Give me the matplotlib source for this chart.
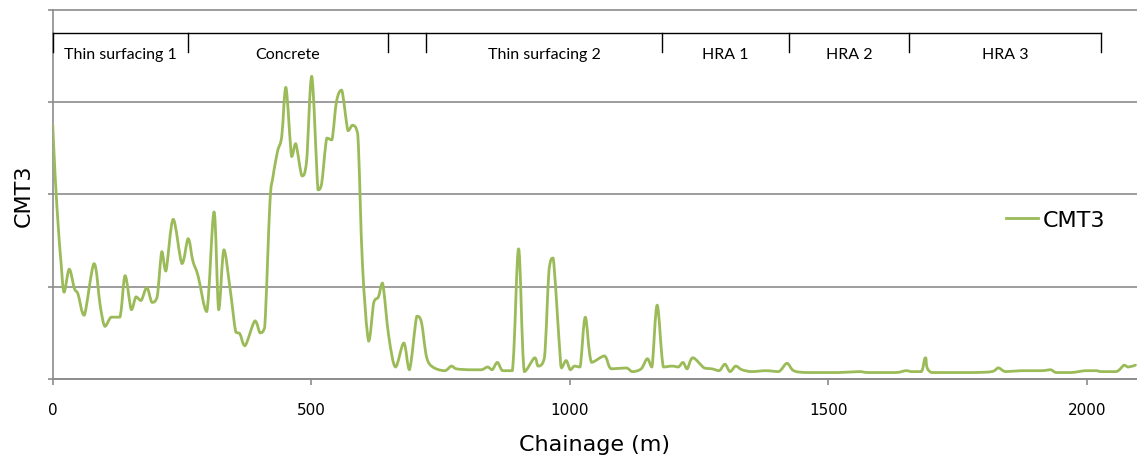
import matplotlib
matplotlib.use("Agg")
import matplotlib.pyplot as plt
import numpy as np
from matplotlib.path import Path
from matplotlib.patches import PathPatch
from matplotlib.lines import Line2D
from matplotlib.ticker import MultipleLocator

# CMT3 profile along the chainage
chainage = [0, 5, 11, 16, 22, 32, 42, 49, 61, 80, 92, 101, 113, 130, 140, 152, 161, 171, 182, 192,
            202, 211, 219, 233, 250, 262, 271, 281, 298, 312, 321, 331, 343, 354, 362, 372, 391, 401,
            410, 420, 426, 435, 443, 451, 462, 470, 482, 491, 501, 513, 520, 530, 540, 549, 559, 571,
            580, 590, 599, 611, 621, 630, 638, 650, 663, 679, 690, 704, 713, 723, 735, 758, 771, 781,
            806, 829, 841, 850, 860, 870, 889, 901, 912, 932, 939, 951, 960, 968, 980, 984, 993, 1001,
            1009, 1020, 1030, 1042, 1067, 1080, 1109, 1121, 1138, 1150, 1159, 1169, 1181, 1198, 1210,
            1219, 1227, 1238, 1260, 1275, 1289, 1300, 1310, 1321, 1333, 1352, 1379, 1404, 1420, 1433,
            1459, 1520, 1559, 1578, 1630, 1650, 1661, 1680, 1688, 1700, 1777, 1816, 1829, 1843, 1873,
            1912, 1930, 1941, 1970, 1997, 2018, 2028, 2057, 2072, 2080, 2094]
cmt3 = [2.76, 2.17, 1.63, 1.27, 0.94, 1.19, 0.98, 0.92, 0.69, 1.25, 0.79, 0.57, 0.67, 0.67, 1.12, 0.75,
        0.89, 0.85, 0.99, 0.83, 0.89, 1.38, 1.17, 1.73, 1.25, 1.52, 1.28, 1.12, 0.73, 1.81, 0.75, 1.40,
        0.98, 0.51, 0.49, 0.36, 0.63, 0.50, 0.56, 1.90, 2.19, 2.47, 2.63, 3.16, 2.41, 2.55, 2.20, 2.36,
        3.28, 2.05, 2.11, 2.61, 2.59, 3.01, 3.13, 2.69, 2.75, 2.65, 1.25, 0.41, 0.83, 0.89, 1.04, 0.46,
        0.13, 0.39, 0.10, 0.68, 0.62, 0.24, 0.13, 0.09, 0.14, 0.11, 0.10, 0.10, 0.13, 0.10, 0.18, 0.09,
        0.09, 1.41, 0.08, 0.23, 0.14, 0.23, 1.19, 1.31, 0.36, 0.12, 0.20, 0.10, 0.14, 0.13, 0.67, 0.18,
        0.25, 0.11, 0.12, 0.08, 0.11, 0.22, 0.13, 0.80, 0.13, 0.14, 0.13, 0.18, 0.11, 0.23, 0.12, 0.11,
        0.09, 0.16, 0.08, 0.14, 0.10, 0.08, 0.09, 0.08, 0.17, 0.09, 0.07, 0.07, 0.08, 0.07, 0.07, 0.09,
        0.08, 0.08, 0.23, 0.07, 0.07, 0.08, 0.12, 0.08, 0.09, 0.09, 0.10, 0.07, 0.07, 0.09, 0.09, 0.08,
        0.08, 0.15, 0.13, 0.15]

# Pavement sections along the route
section_bounds = [0, 262, 648, 722, 1179, 1424, 1656, 2028]
section_names = ["Thin surfacing 1", "Concrete", "", "Thin surfacing 2", "HRA 1", "HRA 2", "HRA 3"]

x_ticks = [0, 500, 1000, 1500, 2000]

GREEN = "#9BBB59"
GRID = "#8C8C8C"


def smooth_path(xs, ys):
    """Cubic Bezier path through every point, with tangent handles kept
    inside each segment's vertical range so the curve never overshoots."""
    p = np.column_stack([xs, ys]).astype(float)
    n = len(p)
    verts = [p[0]]
    codes = [Path.MOVETO]
    for i in range(n - 1):
        p0 = p[i - 1] if i > 0 else p[i]
        p1, p2 = p[i], p[i + 1]
        p3 = p[i + 2] if i + 2 < n else p[i + 1]
        c1 = p1 + (p2 - p0) / 6.0
        c2 = p2 - (p3 - p1) / 6.0
        lo, hi = min(p1[1], p2[1]), max(p1[1], p2[1])
        c1[1] = np.clip(c1[1], lo, hi)
        c2[1] = np.clip(c2[1], lo, hi)
        verts += [c1, c2, p2]
        codes += [Path.CURVE4] * 3
    return Path(verts, codes)


fig = plt.figure(figsize=(11.37, 4.64), dpi=100)
ax = fig.add_axes([52.7 / 1137, 84 / 464, (1137 - 52.7) / 1137, 369.2 / 464])

curve = PathPatch(smooth_path(chainage, cmt3), facecolor="none", edgecolor=GREEN, lw=2.0,
                  joinstyle="round", capstyle="round", zorder=3)
ax.add_patch(curve)

ax.set_xlim(0, 2097)
ax.set_ylim(0, 4)
ax.set_xticks(x_ticks)
ax.yaxis.set_major_locator(MultipleLocator(1))
ax.set_yticklabels([])
ax.grid(axis="y", color=GRID, lw=1.2)
for gl in ax.get_ygridlines():
    gl.set_clip_on(False)
ax.set_axisbelow(True)

for side in ("top", "right"):
    ax.spines[side].set_visible(False)
for side in ("left", "bottom"):
    ax.spines[side].set_color(GRID)
    ax.spines[side].set_linewidth(1.2)

ax.tick_params(axis="x", direction="out", length=4.5, color=GRID, width=1.2,
               labelsize=11, pad=12)
ax.tick_params(axis="y", direction="out", length=3.8, color=GRID, width=1.2)

ax.set_xlabel("Chainage (m)", fontsize=16, labelpad=12)
ax.set_ylabel("CMT3", fontsize=16, labelpad=6)

# Section bracket across the top of the plot
bracket_y = 3.75
tick_bottom = 3.545
ax.plot([section_bounds[0], section_bounds[-1]], [bracket_y, bracket_y], color="black", lw=1.0,
        clip_on=False, zorder=4)
for b in section_bounds:
    ax.plot([b, b], [bracket_y, tick_bottom], color="black", lw=1.0, clip_on=False, zorder=4)
for lo, hi, name in zip(section_bounds[:-1], section_bounds[1:], section_names):
    if name:
        ax.text((lo + hi) / 2, 3.52, name, ha="center", va="center", fontsize=11.5,
                family=["Lato", "DejaVu Sans"], color="black")

handle = Line2D([], [], color=GREEN, lw=2.0)
ax.legend([handle], ["CMT3"], loc="center left", bbox_to_anchor=(1006 / 1137, (464 - 221) / 464),
          bbox_transform=fig.transFigure, frameon=False, fontsize=16, handlelength=1.45,
          handletextpad=0.2, borderpad=0, borderaxespad=0)

fig.savefig("out.png", dpi=100)
